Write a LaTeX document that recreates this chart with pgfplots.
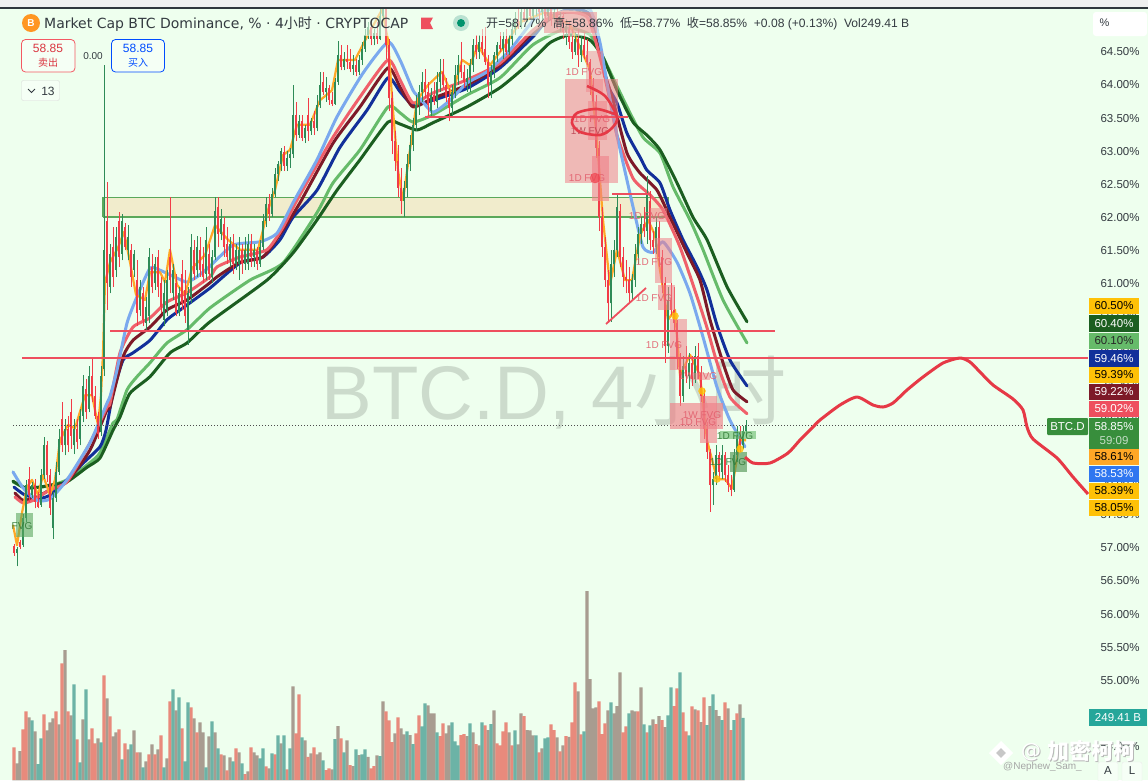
\documentclass[border=0pt]{standalone}
\usepackage{fontspec}
\usepackage{pgfplots}
\usepackage{pgfplotstable}
\pgfplotsset{compat=1.18}
\setmainfont{Liberation Sans}
\newfontfamily\cjk{Noto Sans CJK SC}
\newfontfamily\titlef{DejaVu Sans}

\definecolor{bg}{HTML}{EEFFEE}
\definecolor{cup}{HTML}{2E8B57}
\definecolor{cdn}{HTML}{F23B47}
\definecolor{lblue}{HTML}{7AA9EE}
\definecolor{lred}{HTML}{F0606A}
\definecolor{dred}{HTML}{7D1A28}
\definecolor{navy}{HTML}{12309A}
\definecolor{lgreen}{HTML}{66BB6A}
\definecolor{dgreen}{HTML}{1B5E20}
\definecolor{oran}{HTML}{FFA726}
\definecolor{ink}{HTML}{333A40}
\definecolor{fvg}{HTML}{F08088}
\definecolor{fvgtxt}{HTML}{E2606E}
\definecolor{zone}{HTML}{F1ECCC}
\definecolor{zoneln}{HTML}{5AA85A}
\definecolor{hl}{HTML}{EE4F5E}
\definecolor{pen}{HTML}{E63946}
\definecolor{vsal}{HTML}{E88A7C}
\definecolor{vtea}{HTML}{6CB3A6}
\definecolor{vgry}{HTML}{A89C90}
\definecolor{ygold}{HTML}{FFC107}
\definecolor{tagbl}{HTML}{2F76F0}
\definecolor{taggr}{HTML}{388E3C}
\definecolor{tagte}{HTML}{26A69A}

% x lo hi o c, in percent
\pgfplotstableread{
x lo hi o c
14 56.88 57.06 57.03 56.92
17 56.72 57.02 56.92 56.99
20 56.98 57.12 57.09 57.02
23 57.02 57.52 57.05 57.45
26 57.40 58.02 57.45 57.95
29 57.70 58.22 58.05 57.80
32 57.75 58.00 57.80 57.95
35 57.60 58.05 57.95 57.70
38 57.60 57.85 57.70 57.62
41 57.62 58.20 57.65 58.10
44 58.05 58.68 58.10 58.55
47 58.00 58.62 58.55 58.10
50 57.50 58.20 58.10 57.60
53 57.14 57.85 57.30 57.75
56 57.70 58.30 57.75 58.15
59 58.10 58.80 58.15 58.65
62 58.45 59.20 58.95 58.55
65 58.40 58.95 58.55 58.80
68 58.45 59.00 58.80 58.55
71 58.50 59.25 59.05 58.70
74 58.42 58.95 58.55 58.80
77 58.50 58.95 58.80 58.60
80 58.55 59.10 58.65 59.00
83 58.90 59.62 59.00 59.45
86 58.95 59.55 59.40 59.05
89 59.05 59.75 59.10 59.60
92 59.20 59.85 59.60 59.30
95 58.95 59.45 59.30 59.00
98 58.65 59.05 59.00 58.72
101 58.70 59.75 58.75 59.60
104 59.60 64.30 59.70 61.50
107 60.60 62.54 61.95 61.00
110 60.85 61.60 60.95 61.45
113 60.95 61.85 61.55 61.10
116 61.10 61.85 61.20 61.70
119 61.25 62.08 61.95 61.40
122 61.35 62.05 61.45 61.95
125 61.50 61.92 61.85 61.55
128 61.35 61.88 61.50 61.70
131 60.95 61.60 61.50 61.10
134 61.10 61.50 61.20 61.45
137 60.35 61.35 61.05 60.55
140 60.50 61.05 60.60 60.95
143 60.35 60.95 60.85 60.45
146 60.30 60.80 60.40 60.65
149 60.40 61.53 60.50 61.40
152 60.85 61.45 61.25 60.95
155 60.90 61.40 61.00 61.30
158 60.80 61.50 61.40 60.95
161 60.55 61.10 61.00 60.65
164 60.35 61.05 60.45 60.85
167 60.50 61.20 60.60 61.05
170 60.85 62.30 61.40 61.05
173 60.75 61.30 60.85 61.20
176 60.50 61.15 61.00 60.55
179 60.50 60.95 60.55 60.85
182 60.60 61.35 61.15 60.70
185 60.40 61.20 60.90 60.50
188 60.07 60.95 60.30 60.85
191 60.70 61.75 60.80 61.55
194 61.05 61.65 61.50 61.15
197 61.10 61.72 61.20 61.55
200 61.10 61.70 61.50 61.20
203 61.00 61.55 61.30 61.10
206 61.05 61.85 61.15 61.65
209 61.05 61.60 61.45 61.15
212 61.00 61.50 61.10 61.40
215 61.35 62.30 61.40 62.10
218 61.55 62.30 62.15 61.75
221 61.65 62.12 61.75 61.98
224 61.40 62.00 61.90 61.55
227 61.30 61.85 61.60 61.40
230 61.25 61.70 61.35 61.60
233 61.15 61.75 61.60 61.30
236 61.20 61.60 61.30 61.50
239 61.05 61.70 61.30 61.50
242 61.15 61.60 61.50 61.30
245 61.20 61.70 61.30 61.50
248 61.20 61.75 61.30 61.60
251 61.25 61.75 61.60 61.40
254 61.25 61.60 61.40 61.50
257 61.20 61.55 61.50 61.30
260 61.25 61.65 61.30 61.55
263 61.50 62.05 61.55 61.95
266 61.85 62.30 61.95 62.20
269 61.95 62.35 62.20 62.05
272 62.00 62.45 62.05 62.35
275 62.30 62.75 62.35 62.65
278 62.55 62.85 62.65 62.80
281 62.70 63.05 62.80 63.00
284 62.70 63.08 62.98 62.78
287 62.70 63.00 62.78 62.90
290 62.75 63.05 62.90 62.95
293 62.90 64.00 62.95 63.55
296 63.15 63.75 63.55 63.25
299 63.20 63.55 63.25 63.45
302 63.15 63.55 63.45 63.20
305 63.12 63.40 63.20 63.35
308 63.15 63.80 63.55 63.30
311 63.25 63.50 63.30 63.45
314 63.25 63.60 63.45 63.35
317 63.30 63.85 63.35 63.70
320 63.65 64.20 63.70 64.00
323 63.85 64.20 64.05 63.90
326 63.75 64.12 63.90 63.95
329 63.70 64.00 63.95 63.78
332 63.68 63.90 63.78 63.72
335 63.70 64.10 63.72 64.05
338 64.00 64.66 64.05 64.45
341 64.22 64.60 64.45 64.28
344 64.22 64.50 64.28 64.40
347 64.25 64.60 64.40 64.35
350 64.20 64.55 64.35 64.25
353 64.15 64.45 64.25 64.30
356 64.13 64.40 64.30 64.20
359 64.15 64.45 64.20 64.38
362 64.30 64.65 64.38 64.55
365 64.50 64.85 64.55 64.75
368 64.70 64.95 64.75 64.88
371 64.60 65.00 64.88 64.70
374 64.60 64.85 64.70 64.78
377 64.62 64.95 64.78 64.70
380 64.68 65.15 64.70 65.05
383 65.00 65.40 65.05 65.30
386 64.40 65.45 65.30 64.60
389 63.60 64.70 64.60 63.80
392 62.95 63.90 63.80 63.15
395 62.70 63.30 63.15 62.85
398 62.30 63.10 62.85 62.45
401 62.05 62.75 62.45 62.25
404 62.00 62.55 62.25 62.45
407 62.30 62.95 62.45 62.80
410 62.70 63.25 62.80 63.10
413 63.00 63.50 63.10 63.40
416 63.30 63.85 63.40 63.70
419 63.55 64.00 63.70 63.90
422 63.75 64.20 63.90 64.05
425 63.80 64.25 64.05 63.90
428 63.50 64.05 63.90 63.70
431 63.50 63.95 63.60 63.85
434 63.70 64.05 63.85 63.75
437 63.65 64.20 63.75 64.05
440 63.90 64.40 64.05 64.20
443 63.95 64.40 64.20 64.00
446 63.75 64.10 64.00 63.80
449 63.45 63.95 63.80 63.65
452 63.50 64.00 63.65 63.90
455 63.80 64.30 63.90 64.15
458 64.00 64.45 64.15 64.30
461 64.10 64.65 64.30 64.20
464 63.95 64.30 64.20 64.05
467 63.90 64.25 64.05 64.10
470 63.90 64.40 64.10 64.30
473 64.20 64.70 64.30 64.60
476 64.40 64.75 64.60 64.50
479 64.40 64.75 64.50 64.65
482 64.45 64.85 64.65 64.55
485 64.30 64.88 64.55 64.35
488 63.80 64.45 64.35 64.00
491 63.80 64.30 64.00 64.20
494 64.10 64.50 64.20 64.45
497 64.35 64.65 64.45 64.60
500 64.50 64.80 64.60 64.55
503 64.40 64.80 64.55 64.70
506 64.45 64.85 64.70 64.50
509 64.45 64.75 64.50 64.70
512 64.60 64.95 64.70 64.85
515 64.75 65.10 64.85 65.00
518 64.85 65.15 65.00 64.90
521 64.85 65.20 64.90 65.10
524 64.95 65.30 65.10 65.00
527 64.95 65.25 65.00 65.15
530 65.00 65.30 65.15 65.05
533 64.95 65.25 65.05 65.15
536 65.05 65.40 65.15 65.30
539 65.00 65.35 65.30 65.10
542 65.00 65.30 65.10 65.20
545 65.00 65.30 65.20 65.05
548 64.95 65.25 65.05 65.15
551 64.90 65.25 65.15 65.00
554 64.90 65.20 65.00 65.10
557 64.85 65.20 65.10 64.95
560 64.80 65.10 64.95 65.05
563 64.70 65.10 65.05 64.80
566 64.60 65.00 64.80 64.90
569 64.55 64.95 64.85 64.65
572 64.40 64.85 64.65 64.50
575 64.45 64.80 64.50 64.70
578 64.27 64.85 64.70 64.45
581 64.35 64.75 64.45 64.60
584 64.40 64.80 64.60 64.45
587 64.30 64.70 64.45 64.35
590 63.85 64.40 64.35 64.00
593 63.65 64.10 64.00 63.75
596 62.90 63.85 63.75 63.05
599 61.80 63.15 63.05 62.00
602 61.40 62.15 62.00 61.55
605 60.95 61.70 61.55 61.05
608 60.42 61.20 61.05 60.70
611 60.42 61.50 60.70 61.30
614 61.10 61.65 61.30 61.50
617 61.40 62.36 61.50 62.15
620 61.25 62.20 62.10 61.40
623 60.95 61.55 61.40 61.10
626 60.85 61.35 61.10 61.05
629 60.70 61.25 61.05 60.85
632 60.75 61.15 60.85 61.05
635 60.95 61.60 61.05 61.45
638 61.30 61.85 61.45 61.75
641 61.60 62.00 61.75 61.90
644 61.70 62.15 61.90 61.80
647 61.60 62.63 61.80 62.35
650 61.50 62.40 62.25 61.65
653 61.45 61.80 61.65 61.55
656 61.45 62.00 61.55 61.85
659 61.25 61.95 61.85 61.40
662 60.85 61.50 61.40 61.00
665 59.80 61.10 61.00 60.05
668 59.95 60.95 60.05 60.75
671 60.50 61.00 60.75 60.60
674 60.30 60.95 60.60 60.40
677 59.70 60.45 60.40 59.85
680 59.15 59.95 59.85 59.30
683 59.20 59.90 59.30 59.75
686 59.50 60.05 59.75 59.60
689 59.40 59.95 59.60 59.80
692 59.45 59.90 59.80 59.55
695 59.50 60.05 59.55 59.90
698 59.55 60.10 59.90 59.65
701 59.20 59.75 59.65 59.30
704 58.65 59.40 59.30 58.80
707 58.35 58.90 58.80 58.45
710 57.55 58.50 58.45 57.95
713 57.65 58.15 57.95 58.05
716 57.95 58.55 58.05 58.40
719 58.05 58.45 58.40 58.15
722 58.05 58.55 58.15 58.40
725 58.00 58.45 58.40 58.10
728 57.85 58.25 58.10 57.95
731 57.78 58.10 57.95 57.88
734 57.85 58.50 57.88 58.40
737 58.30 58.85 58.40 58.70
740 58.45 58.85 58.70 58.55
743 58.50 58.85 58.55 58.77
746 58.70 58.93 58.77 58.85
}\candles

% volume in billions, k: 0 grey 1 salmon 2 teal
\pgfplotstableread[row sep=\\]{
v k\\
131 1\\67 0\\116 0\\203 1\\275 1\\251 0\\239 2\\195 0\\64 2\\167 2\\263 1\\199 0\\231 0\\247 0\\275 1\\223 0\\467 1\\520 0\\275 1\\259 0\\383 2\\163 1\\71 2\\243 0\\
363 2\\163 0\\207 1\\147 1\\167 0\\151 2\\419 1\\327 0\\255 1\\175 0\\191 0\\203 1\\83 2\\147 1\\123 0\\143 2\\199 0\\111 1\\111 0\\51 2\\75 0\\103 1\\143 0\\103 1\\
123 0\\179 1\\51 2\\87 0\\315 1\\363 2\\279 0\\331 2\\207 1\\75 2\\311 2\\291 1\\247 0\\191 1\\231 0\\191 0\\51 2\\175 0\\235 2\\191 0\\127 2\\103 1\\99 0\\39 1\\91 0\\75 2\\
127 1\\111 0\\67 2\\24 1\\35 0\\131 1\\111 0\\99 0\\87 2\\127 2\\55 1\\47 0\\107 2\\103 1\\179 2\\147 0\\179 2\\43 1\\127 2\\375 0\\187 1\\343 1\\
171 2\\159 0\\93 1\\107 0\\131 1\\103 0\\111 0\\79 2\\40 1\\47 1\\43 0\\164 2\\216 0\\167 1\\111 2\\159 0\\60 1\\56 0\\123 2\\100 0\\103 2\\123 2\\93 0\\47 1\\56 1\\99 0\\96 2\\
315 0\\275 1\\239 1\\152 1\\187 0\\251 1\\207 0\\183 0\\195 2\\180 0\\144 2\\187 1\\259 1\\215 2\\307 2\\299 0\\267 0\\267 0\\191 2\\176 1\\227 1\\187 0\\219 0\\231 2\\155 2\\139 2\\
180 1\\184 1\\176 0\\227 2\\191 0\\144 1\\139 0\\231 2\\219 1\\200 0\\224 2\\279 0\\147 1\\139 1\\195 1\\231 1\\191 0\\139 1\\199 2\\143 0\\267 0\\256 1\\200 0\\199 0\\179 0\\179 2\\
111 1\\127 0\\167 2\\171 2\\223 1\\200 1\\171 0\\115 1\\139 0\\176 1\\173 0\\231 1\\391 1\\355 0\\183 1\\195 2\\756 0\\404 0\\287 0\\291 0\\315 1\\184 1\\227 1\\279 0\\311 2\\267 0\\296 0\\
431 0\\191 1\\215 1\\267 2\\279 0\\275 0\\275 1\\371 0\\223 2\\191 1\\219 2\\243 0\\224 1\\256 0\\240 1\\212 0\\259 2\\371 2\\296 1\\367 1\\431 2\\271 1\\195 1\\179 2\\295 1\\283 0\\279 1\\
232 0\\331 1\\220 2\\296 0\\343 2\\280 0\\256 0\\240 2\\311 1\\287 0\\200 1\\240 2\\267 1\\303 0\\249 2\\
}\vol

\pgfplotsset{
 pic/.style={at={(0,0)},anchor=south west,scale only axis,width=1148pt,height=780pt,xmin=0,xmax=1148},
 pix/.style={pic,hide axis,clip=false,ymin=0,ymax=780,y dir=reverse},
 ema/.style={line width=3pt,smooth,tension=.35,line join=round,line cap=round},
}
\newcommand{\ptag}[4]{%
 \fill[#2] (axis cs:1089,#1-8.3) rectangle (axis cs:1139,#1+8.3);
 \node[text=#3,font=\fontsize{11.5}{12}\selectfont] at (axis cs:1114,#1) {#4\%};}
\newcommand{\flab}[4][fvgtxt]{\node[text=#1,font=\fontsize{10}{11}\selectfont,opacity=.9] at (axis cs:#2,#3) {#4};}

\begin{document}
\begin{tikzpicture}
\path[use as bounding box] (0,0) rectangle (1148pt,780pt);
\fill[bg] (0,0) rectangle (1148pt,780pt);

% watermark and the supply zone sit under the candles
\begin{axis}[pix]
\node[text=black!70!bg,opacity=.2,anchor=west,font=\fontsize{76}{80}\selectfont] at (axis cs:318,393) {BTC.D, 4{\cjk 小时}};
\addplot[draw=none,fill=zone] coordinates {(103,197)(668,197)(668,217)(103,217)};
\addplot[zoneln,line width=1.6pt] coordinates {(103,217)(103,197.5)(668,197.5)(668,217)(103,217)};
\end{axis}

% volume, 1 px is about 4 B
\begin{axis}[pic,hide axis,ymin=0,ymax=3120]
\addplot[ybar,bar shift=0pt,bar width=3.05pt,draw=none,fill=vgry,forget plot] table[x expr=14+3*\coordindex,y expr={(\thisrow{k}==0)*\thisrow{v}}] {\vol};
\addplot[ybar,bar shift=0pt,bar width=3.05pt,draw=none,fill=vsal,forget plot] table[x expr=14+3*\coordindex,y expr={(\thisrow{k}==1)*\thisrow{v}}] {\vol};
\addplot[ybar,bar shift=0pt,bar width=3.05pt,draw=none,fill=vtea,forget plot] table[x expr=14+3*\coordindex,y expr={(\thisrow{k}==2)*\thisrow{v}}] {\vol};
\end{axis}

% price scale
\begin{axis}[pic,ymin=53.491,ymax=65.286,
 axis line style={draw=none},major tick length=0pt,xtick=\empty,
 ytick={54,54.5,...,64.5},ytick pos=right,
 yticklabel style={anchor=west,xshift=-51pt,text=ink,font=\fontsize{11.5}{12}\selectfont},
 yticklabel={\pgfmathprintnumber[fixed,fixed zerofill,precision=2,assume math mode=true]{\tick}\%},
]
% ema ribbons
\addplot[lgreen,ema] coordinates {(13,58.00)(25,57.91)(40,57.92)(50,57.94)(67,58.03)(90,58.29)(100,58.44)(113,58.89)(117,58.94)(127,59.39)(137,59.59)(150,59.80)(167,60.10)(187,60.30)(210,60.63)(250,61.05)(283,61.31)(317,62.07)(333,62.52)(360,63.02)(388,63.67)(400,63.58)(413,63.44)(433,63.55)(467,63.85)(500,64.11)(533,64.61)(567,64.86)(590,64.76)(603,64.42)(627,63.67)(643,63.21)(660,62.97)(673,62.46)(690,61.96)(703,61.51)(723,60.75)(747,60.10)};
\addplot[dgreen,ema] coordinates {(13,58.01)(25,57.91)(40,57.92)(50,57.95)(67,58.00)(87,58.22)(100,58.36)(113,58.78)(120,58.98)(130,59.34)(150,59.59)(170,59.95)(187,60.10)(210,60.42)(267,61.05)(293,61.46)(317,61.96)(337,62.41)(360,62.87)(388,63.44)(400,63.41)(417,63.32)(433,63.43)(467,63.67)(500,63.96)(527,64.30)(550,64.64)(570,64.76)(590,64.68)(603,64.42)(617,63.92)(633,63.44)(647,63.24)(660,63.02)(677,62.52)(693,62.00)(707,61.66)(727,60.95)(747,60.42)};
\addplot[navy,ema] coordinates {(14,57.92)(25,57.80)(40,57.75)(50,57.80)(65,58.00)(83,58.28)(100,58.53)(106,58.78)(113,59.34)(123,59.84)(133,59.95)(150,60.14)(167,60.45)(183,60.63)(210,60.93)(240,61.31)(263,61.40)(280,61.66)(293,62.00)(317,62.41)(340,63.06)(367,63.62)(388,64.11)(400,63.90)(413,63.70)(433,63.77)(467,63.95)(500,64.26)(533,64.73)(547,64.98)(567,65.14)(590,65.06)(607,64.03)(617,63.73)(627,63.27)(640,62.91)(647,62.71)(660,62.52)(670,62.11)(683,61.66)(697,61.25)(707,60.90)(717,60.37)(730,59.84)(747,59.45)};
\addplot[dred,ema] coordinates {(15,57.83)(23,57.72)(37,57.77)(50,57.88)(67,58.00)(90,58.48)(107,59.09)(110,59.13)(123,59.89)(133,60.14)(150,60.34)(167,60.60)(187,60.75)(210,61.01)(217,61.10)(240,61.32)(263,61.40)(283,61.81)(300,62.22)(333,63.12)(360,63.67)(388,64.26)(400,63.97)(413,63.67)(433,63.80)(467,64.00)(500,64.30)(533,64.79)(560,65.09)(593,65.03)(603,64.27)(613,63.77)(627,62.97)(640,62.67)(657,62.41)(670,62.00)(687,61.46)(700,61.05)(710,60.45)(723,59.80)(733,59.39)(747,59.21)};
\addplot[lred,ema] coordinates {(15,57.77)(23,57.68)(33,57.72)(50,57.88)(67,58.00)(90,58.59)(107,59.13)(110,59.19)(120,59.95)(133,60.34)(150,60.48)(167,60.72)(187,60.86)(210,61.10)(217,61.25)(240,61.40)(267,61.51)(283,61.85)(297,62.26)(333,63.21)(360,63.82)(388,64.38)(400,64.08)(413,63.73)(433,63.88)(467,64.08)(500,64.33)(533,64.83)(560,65.10)(587,65.03)(600,64.42)(610,63.77)(617,63.24)(633,62.59)(650,62.34)(663,62.11)(680,61.55)(697,60.80)(707,60.33)(717,59.80)(730,59.28)(747,59.03)};
\addplot[lblue,ema] coordinates {(13,58.15)(23,57.91)(37,57.72)(50,57.74)(67,58.03)(90,58.59)(107,59.19)(110,59.29)(117,59.69)(127,60.40)(137,60.80)(150,61.23)(160,61.20)(177,61.08)(187,61.02)(197,61.10)(210,61.26)(233,61.58)(260,61.63)(277,61.76)(293,62.22)(317,62.87)(337,63.52)(363,64.18)(388,64.65)(400,64.38)(413,63.92)(420,63.80)(433,63.59)(450,63.77)(467,64.03)(487,64.20)(510,64.53)(540,65.09)(567,65.18)(590,65.14)(600,64.64)(607,64.03)(617,63.24)(627,62.56)(633,62.16)(643,61.55)(653,61.47)(663,61.63)(677,61.32)(690,60.85)(703,60.19)(717,59.43)(730,58.93)(745,58.53)};
\addplot[oran,line width=2.2pt,line join=round] coordinates {(13,57.35)(17,57.04)(22,57.53)(27,57.92)(32,58.03)(38,57.80)(43,58.10)(50,57.80)(55,58.03)(60,58.63)(68,58.86)(75,58.81)(85,59.31)(92,59.31)(98,58.86)(101,59.31)(103,59.95)(105,61.01)(110,61.32)(118,61.54)(124,61.78)(130,61.32)(136,60.83)(145,60.75)(150,61.17)(160,61.17)(165,61.02)(170,61.51)(177,60.98)(185,60.83)(192,61.23)(205,61.43)(215,61.88)(228,61.66)(240,61.51)(258,61.51)(268,62.11)(275,62.41)(283,62.94)(290,63.02)(297,63.40)(310,63.40)(320,63.77)(332,63.92)(338,64.38)(355,64.38)(368,64.76)(382,65.14)(388,64.68)(393,63.62)(398,62.71)(403,62.26)(410,63.02)(417,63.77)(428,64.00)(442,64.20)(452,63.85)(462,64.38)(470,64.30)(478,64.60)(490,64.30)(505,64.60)(520,64.95)(545,65.10)(570,64.91)(590,64.23)(597,63.17)(603,61.96)(610,60.98)(617,61.51)(625,61.05)(632,61.05)(640,61.73)(648,61.96)(655,61.73)(660,61.20)(668,60.45)(675,60.60)(680,59.61)(690,59.92)(700,59.61)(707,58.63)(717,58.04)(725,58.04)(732,57.90)(740,58.63)(746,58.63)};
% candles: wick and body as error bars, one colour per pass
\addplot[draw=none,forget plot,error bars/.cd,y dir=plus,y explicit,error mark=none,error bar style={cup,line width=1pt}] table[x=x,y=lo,y error plus expr={(\thisrow{c}>=\thisrow{o})*(\thisrow{hi}-\thisrow{lo})}] {\candles};
\addplot[draw=none,forget plot,error bars/.cd,y dir=plus,y explicit,error mark=none,error bar style={cup,line width=2.4pt}] table[x=x,y expr={min(\thisrow{o},\thisrow{c})},y error plus expr={(\thisrow{c}>=\thisrow{o})*abs(\thisrow{c}-\thisrow{o})}] {\candles};
\addplot[draw=none,forget plot,error bars/.cd,y dir=plus,y explicit,error mark=none,error bar style={cdn,line width=1pt}] table[x=x,y=lo,y error plus expr={(\thisrow{c}<\thisrow{o})*(\thisrow{hi}-\thisrow{lo})}] {\candles};
\addplot[draw=none,forget plot,error bars/.cd,y dir=plus,y explicit,error mark=none,error bar style={cdn,line width=2.4pt}] table[x=x,y expr={min(\thisrow{o},\thisrow{c})},y error plus expr={(\thisrow{c}<\thisrow{o})*abs(\thisrow{c}-\thisrow{o})}] {\candles};
% current price
\addplot[black!70,line width=.8pt,dash pattern=on 1pt off 2pt] coordinates {(13,58.85)(1047,58.85)};
\end{axis}

% drawings, boxes and the interface, in picture coordinates
\begin{axis}[pix]
\addplot[draw=none,fill=fvg,fill opacity=.55] coordinates {(565,79)(595,79)(595,183)(565,183)};
\addplot[draw=none,fill=fvg,fill opacity=.55] coordinates {(595,79)(618,79)(618,183)(595,183)};
\addplot[draw=none,fill=fvg,fill opacity=.45] coordinates {(586,51)(603,51)(603,92)(586,92)};
\addplot[draw=none,fill=fvg,fill opacity=.5] coordinates {(588,101)(607,101)(607,140)(588,140)};
\addplot[draw=none,fill=fvg,fill opacity=.6] coordinates {(592,156)(609,156)(609,201)(592,201)};
\addplot[draw=none,fill=fvg,fill opacity=.5] coordinates {(650,208)(667,208)(667,222)(650,222)};
\addplot[draw=none,fill=fvg,fill opacity=.55] coordinates {(655,238)(672,238)(672,283)(655,283)};
\addplot[draw=none,fill=fvg,fill opacity=.55] coordinates {(658,285)(675,285)(675,310)(658,310)};
\addplot[draw=none,fill=fvg,fill opacity=.55] coordinates {(670,319)(687,319)(687,370)(670,370)};
\addplot[draw=none,fill=fvg,fill opacity=.5] coordinates {(693,373)(710,373)(710,380)(693,380)};
\addplot[draw=none,fill=fvg,fill opacity=.65] coordinates {(670,403)(723,403)(723,429)(670,429)};
\addplot[draw=none,fill=fvg,fill opacity=.6] coordinates {(700,396)(717,396)(717,443)(700,443)};
\addplot[draw=none,fill=lgreen,fill opacity=.6] coordinates {(720,431)(756,431)(756,439)(720,439)};
\addplot[draw=none,fill=lgreen!80!black,fill opacity=.65] coordinates {(730,452)(747,452)(747,472)(730,472)};
\addplot[draw=none,fill=lgreen!90!black,fill opacity=.6] coordinates {(16,513)(33,513)(33,537)(16,537)};
% the legend row washes out what runs behind it
\addplot[draw=none,fill=bg,fill opacity=.6] coordinates {(40,9)(915,9)(915,36)(40,36)};
\addplot[draw=none,fill=fvg,fill opacity=.5] coordinates {(544,12)(597,12)(597,33)(544,33)};
\flab{584}{72}{1D FVG}\flab{592}{119}{1D FVG}\flab[dred!40!fvgtxt]{590}{131}{1W FVG}\flab{587}{178}{1D FVG}
\flab{647}{216}{1D FVG}\flab{654}{262}{1D FVG}\flab{654}{298}{1D FVG}\flab{664}{345}{1D FVG}
\flab{698}{376}{1W FVG}\flab{702}{415}{1W FVG}\flab{698}{422}{1D FVG}
\flab[dgreen!70!lgreen]{735}{436}{1D FVG}\flab[dgreen!70!lgreen]{728}{462}{1D FVG}\flab[dgreen!70!lgreen]{22}{526}{FVG}
% horizontal levels and pen strokes
\addplot[hl,line width=2.2pt] coordinates {(425,117)(628,117)};
\addplot[hl,line width=2.2pt] coordinates {(110,331)(775,331)};
\addplot[hl,line width=2.2pt] coordinates {(22,358)(1088,358)};
\addplot[hl,line width=1.8pt] coordinates {(612,194)(650,194)};
\addplot[hl,line width=1.8pt] coordinates {(606,324)(646,288)};
\addplot[pen,line width=2.6pt,smooth,tension=.5] coordinates {(587,86)(605,96)(617,117)(612,128)(600,135)(580,132)(572,123)(577,113)(597,109)(617,115)};
\addplot[pen,line width=3pt,smooth,tension=.4,line join=round] coordinates {(745,457)(753,463)(770,463)(788,453)(800,440)(812,428)(820,420)(840,405)(857,397)(873,405)(883,407)(893,403)(907,390)(923,377)(943,363)(960,358)(970,362)(980,372)(993,385)(1013,399)(1023,410)(1027,427)(1033,439)(1057,458)(1073,477)(1088,494)};
\addplot[only marks,mark=*,mark size=3.5pt,draw=none,mark options={draw=ygold,fill=ygold,opacity=.8}] coordinates {(675,316)(702,391)(717,479)(740,449)};
\addplot[only marks,mark=*,mark size=5pt,draw=none,mark options={draw=cdn,fill=cdn,opacity=.6}] coordinates {(595,178)};
% right hand tags
\ptag{306}{ygold}{black}{60.50}
\ptag{323.5}{dgreen}{white}{60.40}
\ptag{341}{lgreen}{black!85}{60.10}
\ptag{358.5}{navy}{white}{59.46}
\ptag{375}{ygold}{black}{59.39}
\ptag{392}{dred}{white}{59.22}
\ptag{409}{hl}{white}{59.02}
\fill[taggr] (axis cs:1089,418) rectangle (axis cs:1139,448.5);
\node[text=white,font=\fontsize{11.5}{12}\selectfont] at (axis cs:1114,427) {58.85\%};
\node[text=white!70!taggr,font=\fontsize{11.5}{12}\selectfont] at (axis cs:1114,441) {59:09};
\ptag{457}{oran}{black}{58.61}
\ptag{474}{tagbl}{white}{58.53}
\ptag{491}{ygold}{black}{58.39}
\ptag{508}{ygold}{black}{58.05}
\fill[taggr,rounded corners=1pt] (axis cs:1047,418) rectangle (axis cs:1088,435);
\node[text=white,font=\fontsize{11.5}{12}\selectfont] at (axis cs:1067.5,427) {BTC.D};
\fill[tagte] (axis cs:1089,709) rectangle (axis cs:1147,726);
\node[text=white,font=\fontsize{11.5}{12}\selectfont] at (axis cs:1118,717.5) {249.41 B};
% top strip
\fill[black!6] (axis cs:0,0) rectangle (axis cs:1148,6.5);
\fill[ink!95!black] (axis cs:0,6.5) rectangle (axis cs:1148,8.5);
\fill[white,rounded corners=3pt] (axis cs:1093,12) rectangle (axis cs:1147,36);
\node[text=ink,anchor=west,font=\fontsize{11}{12}\selectfont] at (axis cs:1096,23) {\%};
% header
\fill[oran!90!red] (axis cs:31,23) circle (9pt);
\node[text=white,font=\bfseries\fontsize{10}{11}\selectfont] at (axis cs:31,23) {B};
\node[text=ink,anchor=west,inner sep=0pt,font=\titlef\fontsize{14}{15}\selectfont] at (axis cs:44,24) {Market Cap BTC Dominance, \% · 4{\cjk 小时} · CRYPTOCAP};
\fill[hl] (axis cs:421,17.5) -- (axis cs:433,17.5) -- (axis cs:430,23) -- (axis cs:433,29) -- (axis cs:421,29) -- cycle;
\fill[vtea!40!bg] (axis cs:461,23) circle (8pt);
\fill[teal!85!green] (axis cs:461,23) circle (4pt);
\node[text=ink,anchor=west,inner sep=0pt,font=\fontsize{12.1}{13}\selectfont] at (axis cs:486,24) {{\cjk 开}=58.77\%\ \ {\cjk 高}=58.86\%\ \ {\cjk 低}=58.77\%\ \ {\cjk 收}=58.85\%\ \ +0.08 (+0.13\%)\ \ Vol249.41 B};
% order buttons
\draw[cdn!85!white,fill=white!40!bg,rounded corners=4pt,line width=.8pt] (axis cs:21.5,39.5) rectangle (axis cs:75,72);
\node[text=cdn!90!black,font=\fontsize{12}{13}\selectfont] at (axis cs:48,48.5) {58.85};
\node[text=cdn!90!black,font=\cjk\fontsize{10}{11}\selectfont] at (axis cs:48,63) {卖出};
\node[text=ink,font=\fontsize{10}{11}\selectfont] at (axis cs:93,56) {0.00};
\draw[blue!70!cyan,fill=white!40!bg,rounded corners=4pt,line width=.8pt] (axis cs:111.5,39.5) rectangle (axis cs:164.5,72);
\node[text=blue!70!cyan,font=\fontsize{12}{13}\selectfont] at (axis cs:138,48.5) {58.85};
\node[text=blue!70!cyan,font=\cjk\fontsize{10}{11}\selectfont] at (axis cs:138,63) {买入};
\draw[black!15,fill=white!40!bg,rounded corners=2pt] (axis cs:21.5,80.5) rectangle (axis cs:59.5,100.5);
\draw[ink,line width=.9pt] (axis cs:28,89) -- (axis cs:31.5,92.5) -- (axis cs:35,89);
\node[text=ink,font=\fontsize{12}{13}\selectfont] at (axis cs:48,91) {13};
% bottom right buttons, then the repost watermark over them
\draw[black!8,fill=white!50!bg,rounded corners=2pt] (axis cs:1098,762) rectangle (axis cs:1118,784);
\draw[black!8,fill=white!50!bg,rounded corners=2pt] (axis cs:1122,762) rectangle (axis cs:1142,784);
\node[text=ink,font=\fontsize{11.5}{12}\selectfont] at (axis cs:1108,771) {A};
\node[text=ink,font=\fontsize{11.5}{12}\selectfont] at (axis cs:1132,771) {L};
\node[text=black!28,font=\cjk\bfseries\fontsize{22}{24}\selectfont] at (axis cs:1092,752) {加密柯柯};
\node[text=white,font=\cjk\bfseries\fontsize{22}{24}\selectfont] at (axis cs:1091,751) {加密柯柯};
\node[text=black!28,font=\titlef\fontsize{20}{22}\selectfont] at (axis cs:1032,753) {@};
\node[text=white,font=\titlef\fontsize{20}{22}\selectfont] at (axis cs:1031,752) {@};
\node[fill=white,rotate=45,minimum size=17pt,inner sep=0pt] at (axis cs:1001,753) {};
\node[fill=black!22,rotate=45,minimum size=7pt,inner sep=0pt] at (axis cs:1001,753) {};
\node[text=black!35,anchor=west,inner sep=0pt,font=\fontsize{10}{11}\selectfont] at (axis cs:1003,767) {@Nephew\_Sam\_};
\end{axis}
\end{tikzpicture}
\end{document}
